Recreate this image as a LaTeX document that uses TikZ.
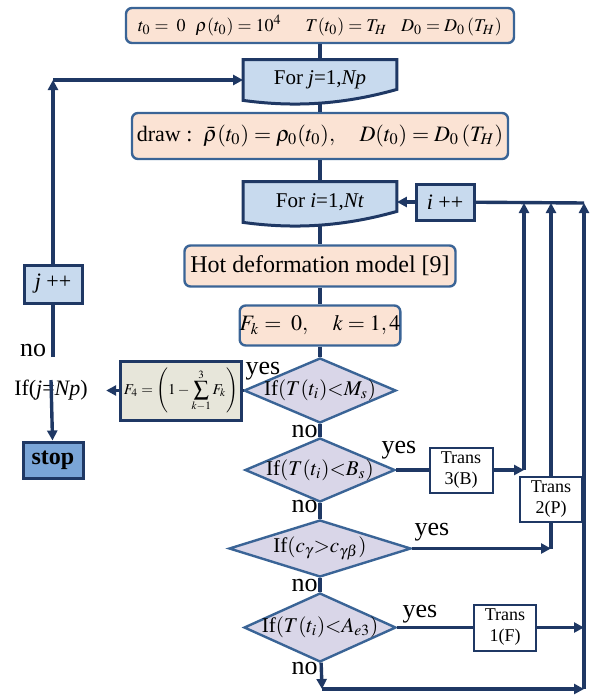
\documentclass[tikz,border=0pt]{standalone}
\usepackage{mathptmx}
\usepackage[no-math]{fontspec}
\setmainfont{Liberation Serif}
\usetikzlibrary{shapes.geometric,arrows.meta,backgrounds}

\definecolor{navy}{RGB}{31,56,100}
\definecolor{steel}{RGB}{58,100,150}
\definecolor{peach}{RGB}{251,227,212}
\definecolor{paleblue}{RGB}{200,218,238}
\definecolor{lilac}{RGB}{217,214,232}
\definecolor{sand}{RGB}{231,230,218}
\definecolor{stopblue}{RGB}{122,165,215}

\begin{document}
\begin{tikzpicture}[x=0.5pt, y=-0.5pt, >={Triangle[length=5pt,width=5pt]},
    flow/.style={draw=navy, line width=1.7pt},
    initbox/.style={draw=steel, fill=peach, rounded corners=3pt, line width=1.2pt, inner sep=0pt},
    loopbox/.style={inner sep=0pt, minimum width=76.5pt, minimum height=20pt, font=\fontsize{10.5}{12}\selectfont},
    wave/.style={draw=navy, fill=paleblue, line width=1.5pt},
    countbox/.style={draw=navy, fill=paleblue, line width=1.5pt, inner sep=0pt, minimum width=29pt, minimum height=18pt, font=\fontsize{11}{13}\selectfont},
    decision/.style={diamond, draw=steel, fill=lilac, line width=1.2pt, inner sep=0pt, label={[font=\fontsize{10.5}{12}\selectfont]center:#1}},
    transbox/.style={draw=navy, fill=white, line width=1pt, inner sep=0pt, minimum width=31.5pt, minimum height=22.5pt, align=center, font=\fontsize{9}{10.5}\selectfont},
    answer/.style={inner sep=0pt, font=\fontsize{13}{15}\selectfont}]
    \useasboundingbox (0,0) rectangle (589,696);

    % Nodes
    \node[initbox, minimum width=194pt, minimum height=17.5pt, font=\fontsize{9}{11}\selectfont] (init) at (320,25.5)
      {$t_0=\;0$\hspace{5pt}$\rho(t_0)=10^4$\hspace{12pt}$T(t_0)=T_H$\hspace{7pt}$D_0=D_0\left(T_H\right)$};
    \node[loopbox, node distance=27.25pt, below of=init] (forj) {For \textit{j}=1,\textit{Np}};
    \node[initbox, minimum width=188pt, minimum height=23pt, font=\fontsize{11}{13}\selectfont, node distance=28pt, below of=forj] (sample)
      {draw :\ \ $\bar{\rho}(t_0)=\rho_0(t_0),\quad D(t_0)=D_0\left(T_H\right)$};
    \node[loopbox, node distance=33pt, below of=sample] (fori) {For \textit{i}=1,\textit{Nt}};
    \node[initbox, minimum width=135.5pt, minimum height=20.5pt, font=\fontsize{12}{14}\selectfont, node distance=32pt, below of=fori] (hot) {Hot deformation model [9]};
    \node[initbox, minimum width=77pt, minimum height=20pt, font=\fontsize{11}{13}\selectfont, node distance=29.75pt, below of=hot] (fk) {$F_k=\;0,\quad k=1,4$};
    \node[decision={If$(T(t_i){<}M_s)$}, minimum width=76pt, minimum height=32.5pt, node distance=32.5pt, below of=fk] (ms) {};
    \node[decision={If$(T(t_i){<}B_s)$}, minimum width=75pt, minimum height=32pt, node distance=39.75pt, below of=ms] (bs) {};
    \node[decision={If$(c_\gamma{>}c_{\gamma\beta})$}, minimum width=91pt, minimum height=28.5pt, node distance=39.25pt, below of=bs] (cg) {};
    \node[decision={If$(T(t_i){<}A_{e3})$}, minimum width=76pt, minimum height=34.5pt, node distance=39.5pt, below of=cg] (ae) {};

    \node[countbox, node distance=62.5pt, right of=fori] (ipp) {\textit{i} ++};
    \node[draw=navy, fill=sand, line width=1.5pt, inner sep=0pt, minimum width=60.5pt, minimum height=29.5pt, font=\fontsize{7.5}{9}\selectfont, node distance=69.5pt, left of=ms] (ffour)
      {$F_4=\left(1-\displaystyle\sum_{k-1}^{3}F_k\right)$};
    \node[inner xsep=9pt, inner ysep=0pt, font=\fontsize{11}{13}\selectfont, node distance=65pt, left of=ffour] (ifj) {If(\textit{j}=\textit{Np})};
    \node[countbox, fill=stopblue, minimum width=30pt, font=\fontsize{12}{14}\selectfont\bfseries] (stop) at (53,460) {stop};
    \node[countbox, minimum height=19pt] (jpp) at (53,284) {\textit{j} ++};
    \node[transbox, node distance=70.5pt, right of=bs] (tb) {Trans\\3(B)};
    \node[transbox, minimum width=31pt] (tp) at (551,499.5) {Trans\\2(P)};
    \node[transbox, minimum width=31pt, minimum height=23pt, node distance=92.5pt, right of=ae] (tf) {Trans\\1(F)};

    \node[answer] (yms) at (263,371) {yes};
    \node[answer, anchor=east] (nms) at (318,431) {no};
    \node[answer] (ybs) at (399,450) {yes};
    \node[answer, anchor=east] (nbs) at (318,506) {no};
    \node[answer] (ycg) at (432,532) {yes};
    \node[answer, anchor=east] (ncg) at (318,585) {no};
    \node[answer] (yae) at (420,614) {yes};
    \node[answer, anchor=east] (nae) at (318,668) {no};
    \node[answer] (nifj) at (33,350) {no};

    % Loop shapes
    \begin{scope}[on background layer]
      \draw[wave] (forj.north west) -- (forj.north east) -- ([yshift=5.5pt]forj.south east)
        .. controls ([xshift=-30pt,yshift=-3pt]forj.south east) and ([xshift=22pt,yshift=-3pt]forj.south west) .. (forj.south west) -- cycle;
      \draw[wave] (fori.north west) -- (fori.north east) -- ([yshift=5.5pt]fori.south east)
        .. controls ([xshift=-30pt,yshift=-3pt]fori.south east) and ([xshift=22pt,yshift=-3pt]fori.south west) .. (fori.south west) -- cycle;
    \end{scope}

    \coordinate (rt) at (584,203);
    \coordinate (tbx) at (524,470);
    \coordinate (cgx) at (551,548.5);
    \coordinate (bl) at (322,689);
    \coordinate (br) at (584,689);
    \coordinate (nj) at (53,357);
    \coordinate (lt) at (53,80);

    % Arrows
    \draw[flow] (init) -- (forj);
    \draw[flow] ([yshift=-1.5pt]forj.south) -- (sample);
    \draw[flow] (sample) -- (fori);
    \draw[flow] ([yshift=-1.5pt]fori.south) -- (hot);
    \draw[flow] (hot) -- (fk);
    \draw[flow] (fk) -- (ms);
    \draw[flow] (ms) -- (bs);
    \draw[flow] (bs) -- (cg);
    \draw[flow] (cg) -- (ae);
    \draw[flow, ->] (ae) -- (bl);
    \draw[flow, ->] (bl) -- (br);
    \draw[flow, ->] (br) -- (rt);
    \draw[flow] (rt) -- (ipp);
    \draw[flow, ->] (ipp) -- (fori);

    \draw[flow] (bs) -- (tb);
    \draw[flow, ->] (tb) -- (tbx);
    \draw[flow, ->] (tbx) -- (tbx |- rt);
    \draw[flow, ->] (cg) -- (cgx);
    \draw[flow] (cgx) -- (tp);
    \draw[flow, ->] (tp) -- (tp |- rt);
    \draw[flow] (ae) -- (tf);
    \draw[flow, ->] (tf) -- (tf -| br);

    \draw[flow] (ms) -- (ffour);
    \draw[flow, ->] (ffour) -- (ifj);
    \draw[flow, ->] (ifj.north) -- (stop);
    \draw[flow] (nj) -- (jpp);
    \draw[flow, ->] (jpp) -- (lt);
    \draw[flow, ->] (lt) -- (forj);
\end{tikzpicture}
\end{document}
